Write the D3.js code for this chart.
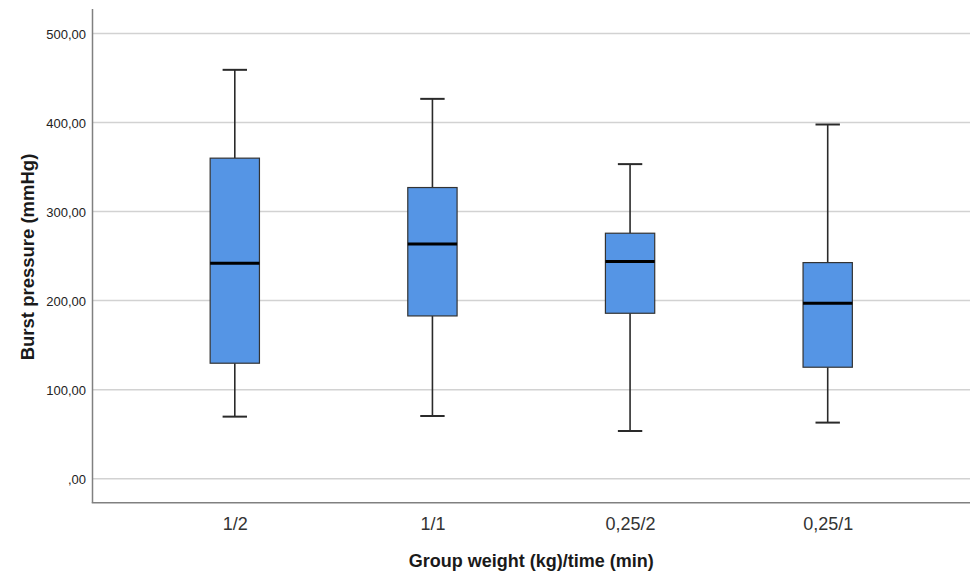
<!DOCTYPE html>
<html><head><meta charset="utf-8">
<script src="https://cdn.jsdelivr.net/npm/d3@7"></script>
<style>body{margin:0;background:#fff}svg{display:block}</style>
</head><body>
<svg id="c" width="972" height="572"></svg>
<script>
const categories = ["1/2", "1/1", "0,25/2", "0,25/1"];
const whiskerLow  = [69.7, 70.4, 53.6, 63.0];
const q1          = [129.7, 182.8, 185.8, 125.2];
const median      = [242.0, 263.7, 243.8, 197.0];
const q3          = [360.0, 327.0, 275.7, 242.7];
const whiskerHigh = [459.2, 426.6, 353.3, 397.8];
const yTicks = [0, 100, 200, 300, 400, 500];
const yTickLabels = [",00", "100,00", "200,00", "300,00", "400,00", "500,00"];

const svg = d3.select("#c");
const plotLeft = 92.5, plotRight = 970, plotTop = 9, plotBottom = 502.7;
const y = d3.scaleLinear().domain([0, 500]).range([478.7, 33.5]);
const x = d3.scalePoint().domain(categories).range([plotLeft, plotRight]).padding(0.72);

// gridlines
svg.append("g").selectAll("line").data(yTicks).join("line")
  .attr("x1", plotLeft).attr("x2", plotRight)
  .attr("y1", d => y(d)).attr("y2", d => y(d))
  .attr("stroke", "#d2d2d2").attr("stroke-width", 1.5);

// axes
const yAxis = svg.append("g").attr("transform", `translate(${plotLeft},0)`)
  .call(d3.axisLeft(y).tickValues(yTicks).tickSize(6).tickFormat((d,i) => yTickLabels[i]));
yAxis.select(".domain").remove();
yAxis.selectAll(".tick line").attr("x1", 0).attr("x2", 0);
yAxis.selectAll("text").attr("font-family", "Liberation Sans, Arial, sans-serif")
  .attr("font-size", 13).attr("fill", "#222").attr("x", -6.5).attr("dy", "0.4em");

svg.append("line").attr("x1", plotLeft).attr("x2", plotLeft).attr("y1", plotTop).attr("y2", plotBottom)
  .attr("stroke", "#808080").attr("stroke-width", 1.5);
svg.append("line").attr("x1", plotLeft - 0.75).attr("x2", plotRight).attr("y1", plotBottom).attr("y2", plotBottom)
  .attr("stroke", "#808080").attr("stroke-width", 1.5);

const xAxis = svg.append("g").attr("transform", `translate(0,${plotBottom})`)
  .call(d3.axisBottom(x).tickSize(0));
xAxis.select(".domain").remove();
xAxis.selectAll("text").attr("font-family", "Liberation Sans, Arial, sans-serif")
  .attr("font-size", 18).attr("fill", "#333").attr("y", 0).attr("dy", 0)
  .attr("transform", "translate(0,27)");

// boxes
const bw = 49.3, cw = 24.4;
const g = svg.append("g").selectAll("g").data(categories).join("g");
g.append("line").attr("x1", d => x(d)).attr("x2", d => x(d))
  .attr("y1", (d,i) => y(whiskerHigh[i])).attr("y2", (d,i) => y(q3[i]))
  .attr("stroke", "#2a2a2a").attr("stroke-width", 1.6);
g.append("line").attr("x1", d => x(d)).attr("x2", d => x(d))
  .attr("y1", (d,i) => y(q1[i])).attr("y2", (d,i) => y(whiskerLow[i]))
  .attr("stroke", "#2a2a2a").attr("stroke-width", 1.6);
g.append("line").attr("x1", d => x(d) - cw/2).attr("x2", d => x(d) + cw/2)
  .attr("y1", (d,i) => y(whiskerHigh[i])).attr("y2", (d,i) => y(whiskerHigh[i]))
  .attr("stroke", "#2a2a2a").attr("stroke-width", 2);
g.append("line").attr("x1", d => x(d) - cw/2).attr("x2", d => x(d) + cw/2)
  .attr("y1", (d,i) => y(whiskerLow[i])).attr("y2", (d,i) => y(whiskerLow[i]))
  .attr("stroke", "#2a2a2a").attr("stroke-width", 2);
g.append("rect").attr("x", d => x(d) - bw/2).attr("width", bw)
  .attr("y", (d,i) => y(q3[i])).attr("height", (d,i) => y(q1[i]) - y(q3[i]))
  .attr("fill", "#5595e5").attr("stroke", "#333").attr("stroke-width", 1.2);
g.append("line").attr("x1", d => x(d) - bw/2).attr("x2", d => x(d) + bw/2)
  .attr("y1", (d,i) => y(median[i])).attr("y2", (d,i) => y(median[i]))
  .attr("stroke", "#000").attr("stroke-width", 3);

// titles
svg.append("text").attr("x", (plotLeft + plotRight)/2).attr("y", 567)
  .attr("text-anchor", "middle").attr("font-family", "Liberation Sans, Arial, sans-serif")
  .attr("font-weight", "bold").attr("font-size", 18).attr("fill", "#1a1a1a")
  .text("Group weight (kg)/time (min)");
svg.append("text").attr("transform", "translate(34,257) rotate(-90)")
  .attr("text-anchor", "middle").attr("font-family", "Liberation Sans, Arial, sans-serif")
  .attr("font-weight", "bold").attr("font-size", 18.5).attr("fill", "#1a1a1a")
  .text("Burst pressure (mmHg)");
</script>
</body></html>
